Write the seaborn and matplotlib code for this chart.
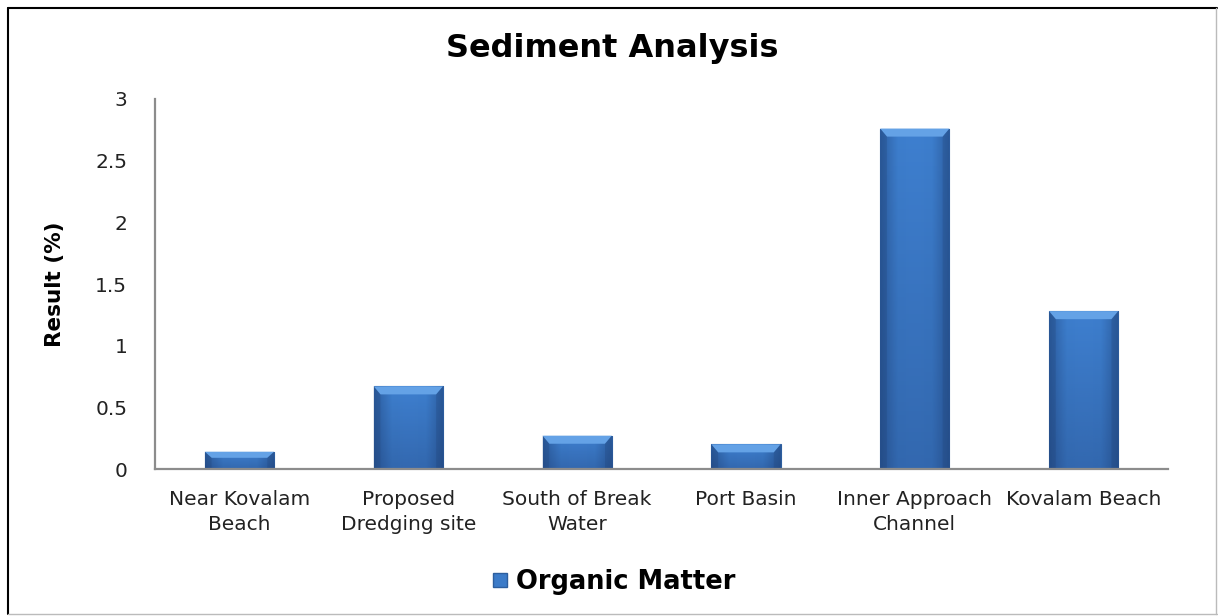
import numpy as np
import pandas as pd
import matplotlib
matplotlib.use("Agg")
import matplotlib.pyplot as plt
import seaborn as sns
from matplotlib.lines import Line2D
from matplotlib.patches import Polygon
from matplotlib.colors import LinearSegmentedColormap

categories = ["Near Kovalam\nBeach", "Proposed\nDredging site", "South of Break\nWater",
              "Port Basin", "Inner Approach\nChannel", "Kovalam Beach"]
organic_matter = [0.14, 0.67, 0.27, 0.2, 2.76, 1.28]
series_name = "Organic Matter"
y_ticks = [0, 0.5, 1, 1.5, 2, 2.5, 3]
y_tick_labels = ["0", "0.5", "1", "1.5", "2", "2.5", "3"]

sns.set_theme(style="white")
plt.rcParams['font.family'] = ['DejaVu Sans']

fig = plt.figure(figsize=(12.18, 6.16), dpi=100)
ax = fig.add_axes([0.1273, 0.2386, 0.959 - 0.1273, 0.8393 - 0.2386])

df = pd.DataFrame({"Location": categories, "Result": organic_matter})
sns.barplot(data=df, x="Location", y="Result", ax=ax, color="#3C7BC8",
            width=0.41, saturation=1, edgecolor="#2D5E9E", linewidth=0.8)

# gradient / bevel effect on each bar
body = LinearSegmentedColormap.from_list("body", ["#2E60A3", "#3D7ECD", "#3F80D0", "#3D7ECD", "#2E60A3"])
shade = LinearSegmentedColormap.from_list("sh", [(0.1, 0.2, 0.4, 0.30), (0.1, 0.2, 0.4, 0.0)])
for p in list(ax.patches):
    x0, y0 = p.get_x(), p.get_y()
    w, h = p.get_width(), p.get_height()
    z = p.get_zorder()
    grad = np.linspace(0, 1, 64).reshape(1, -1)
    im = ax.imshow(np.vstack([grad, grad]), cmap=body, aspect="auto",
                   extent=[x0, x0 + w, y0, y0 + h], zorder=z + 0.1,
                   interpolation="bicubic")
    im.set_clip_path(p)
    vgrad = np.linspace(0, 1, 64).reshape(-1, 1)
    im2 = ax.imshow(vgrad, cmap=shade, aspect="auto", origin="lower",
                    extent=[x0, x0 + w, y0, y0 + h], zorder=z + 0.2,
                    interpolation="bicubic")
    im2.set_clip_path(p)
    bev = min(0.065, h * 0.35)
    d = 0.04
    top = y0 + h
    ax.add_patch(Polygon([(x0, top), (x0 + w, top), (x0 + w - d, top - bev), (x0 + d, top - bev)],
                         closed=True, facecolor="#64A2E6", edgecolor="none", zorder=z + 0.3))
    ax.add_patch(Polygon([(x0, top), (x0 + d, top - bev), (x0 + d, y0), (x0, y0)],
                         closed=True, facecolor=(0.12, 0.25, 0.45, 0.25), edgecolor="none", zorder=z + 0.3))
    ax.add_patch(Polygon([(x0 + w, top), (x0 + w - d, top - bev), (x0 + w - d, y0), (x0 + w, y0)],
                         closed=True, facecolor=(0.12, 0.25, 0.45, 0.25), edgecolor="none", zorder=z + 0.3))

ax.set_xlim(-0.5, len(categories) - 0.5)
ax.set_ylim(0, 3)
ax.set_yticks(y_ticks)
ax.set_yticklabels(y_tick_labels, fontsize=14.5, color="#222222")
ax.tick_params(axis="y", length=0, pad=20)
ax.tick_params(axis="x", length=0, pad=15, labelsize=14.5, labelcolor="#222222")
for lab in ax.get_xticklabels():
    lab.set_linespacing(1.4)
ax.set_xlabel("")
ax.set_ylabel("Result (%)", fontsize=15.5, fontweight="bold", labelpad=22, color="black")
for s in ["top", "right"]:
    ax.spines[s].set_visible(False)
for s in ["left", "bottom"]:
    ax.spines[s].set_color("#8c8c8c")
    ax.spines[s].set_linewidth(1.6)

fig.text(0.503, 0.922, "Sediment Analysis", ha="center", va="center",
         fontsize=23, fontweight="bold", color="black")

handle = Line2D([], [], marker="s", linestyle="none", markersize=10,
                markerfacecolor="#3C7BC8", markeredgecolor="#2D5E9E")
leg = fig.legend([handle], [series_name], loc="center", bbox_to_anchor=(0.503, 0.056),
                 frameon=False, prop={"size": 18.5, "weight": "bold"}, handletextpad=0.2,
                 handlelength=0.8)
for t in leg.get_texts():
    t.set_color("black")

# figure frame
fig.add_artist(Line2D([8/1218, 8/1218], [1 - 8/616, 1 - 614/616], color="black", lw=1.5))
fig.add_artist(Line2D([8/1218, 1217/1218], [1 - 8/616, 1 - 8/616], color="black", lw=1.5))
fig.add_artist(Line2D([1216/1218, 1216/1218], [1 - 8/616, 1 - 614/616], color="#bbbbbb", lw=1))
fig.add_artist(Line2D([8/1218, 1217/1218], [1 - 614/616, 1 - 614/616], color="#bbbbbb", lw=1))

fig.savefig("out.png", dpi=100)
